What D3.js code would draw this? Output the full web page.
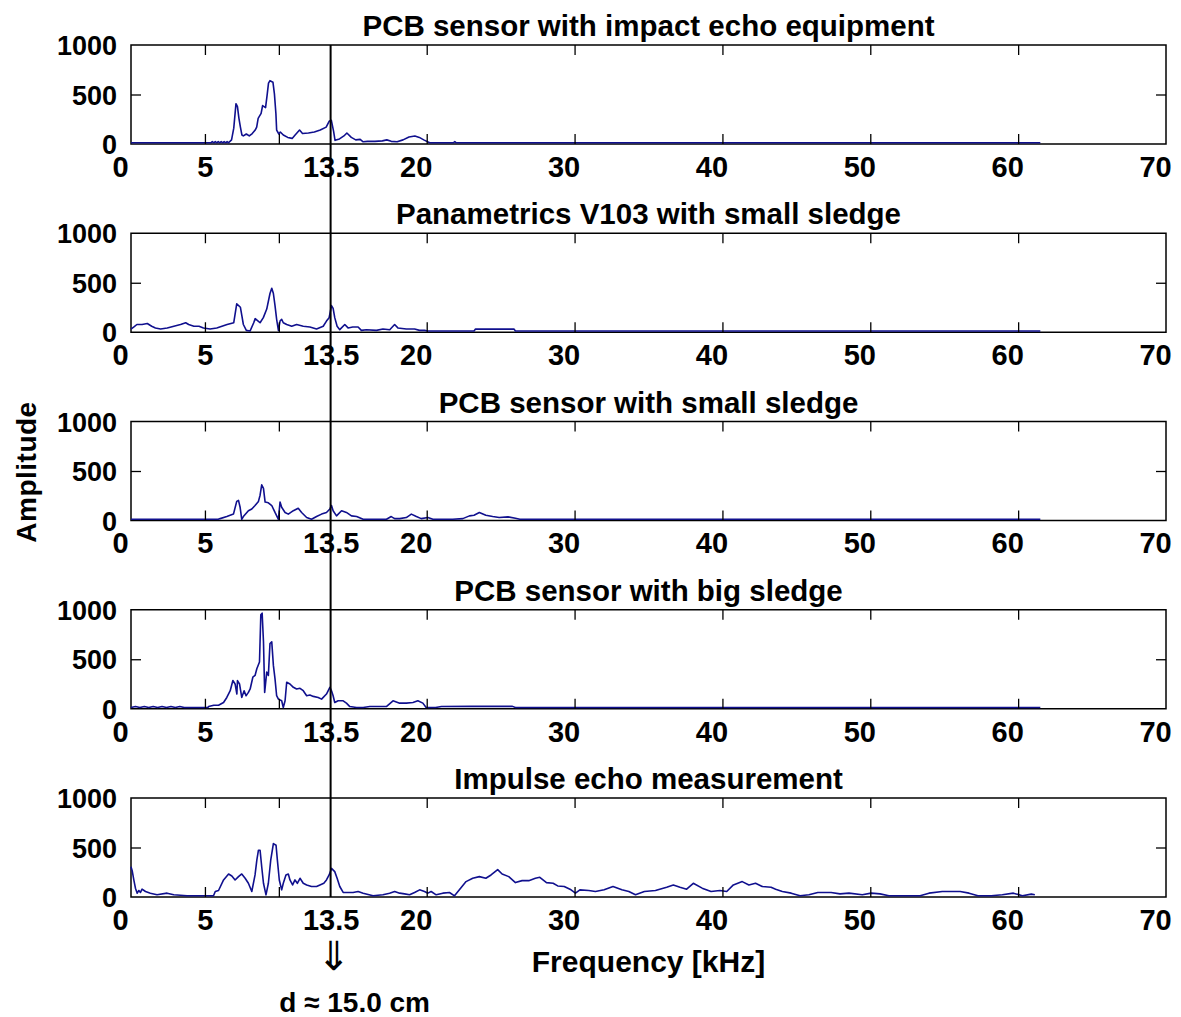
<!DOCTYPE html>
<html><head><meta charset="utf-8">
<script src="https://cdn.jsdelivr.net/npm/d3@7"></script>
<style>
body{margin:0;background:#fff}
svg text{font-family:"Liberation Sans",Arial,sans-serif;font-weight:bold;fill:#000}
</style>
</head><body>
<svg id="chart" width="1181" height="1017"></svg>
<script>
// ---------- data ----------
const titles = [
  "PCB sensor with impact echo equipment",
  "Panametrics V103 with small sledge",
  "PCB sensor with small sledge",
  "PCB sensor with big sledge",
  "Impulse echo measurement"
];
const xTickValues = [0, 5, 10, 20, 30, 40, 50, 60, 70];
const xLabelValues = [0, 5, 13.5, 20, 30, 40, 50, 60, 70];
const yTickValues = [0, 500, 1000];
const markerFreq = 13.5;
const xAxisTitle = "Frequency [kHz]";
const yAxisTitle = "Amplitude";
const markerNote = "d \u2248 15.0 cm";

// [frequency kHz, amplitude]
const pcbImpact = [[0,0],[5.4,0],[5.5,12],[5.6,0],[5.7,12],[5.8,0],[5.9,12],[6.0,0],[6.1,12],[6.2,0],[6.3,12],[6.4,0],[6.5,12],[6.6,0],[6.8,30],[6.95,150],[7.1,400],[7.2,370],[7.3,250],[7.4,160],[7.5,80],[7.6,70],[7.8,90],[8.0,70],[8.2,95],[8.4,130],[8.5,160],[8.6,250],[8.8,300],[8.9,380],[9.1,360],[9.2,480],[9.3,610],[9.4,635],[9.6,620],[9.7,500],[9.8,300],[9.85,130],[10.0,90],[10.1,110],[10.3,80],[10.6,55],[10.9,45],[11.1,80],[11.4,130],[11.6,95],[12.0,100],[12.4,110],[12.8,130],[13.2,160],[13.4,220],[13.55,230],[13.7,120],[13.8,25],[14.1,40],[14.4,70],[14.6,100],[14.9,55],[15.2,30],[15.5,35],[15.7,10],[16.0,15],[16.5,15],[17.0,20],[17.3,30],[17.6,15],[18.0,10],[18.4,30],[18.8,60],[19.2,70],[19.5,55],[19.8,30],[20.2,0],[21.8,0],[21.9,12],[22.0,0],[61.5,0]];

const panametrics = [[0,20],[0.2,42],[0.4,67],[0.75,67],[1.1,77],[1.4,49],[1.65,32],[2.0,21],[2.45,32],[2.9,49],[3.35,67],[3.7,85],[3.9,67],[4.25,49],[4.6,49],[4.9,32],[5.35,21],[5.8,32],[6.15,49],[6.5,67],[6.95,85],[7.15,278],[7.4,243],[7.5,155],[7.6,67],[7.8,7],[8.05,0],[8.3,85],[8.4,127],[8.6,102],[8.73,85],[8.95,137],[9.18,225],[9.4,384],[9.52,437],[9.63,384],[9.74,260],[9.85,120],[9.97,7],[10.08,102],[10.19,120],[10.3,85],[10.53,67],[10.87,49],[11.2,67],[11.65,49],[12.1,42],[12.55,21],[13.0,49],[13.22,102],[13.4,137],[13.56,260],[13.67,232],[13.78,137],[13.94,49],[14.12,14],[14.46,67],[14.68,32],[15.0,42],[15.36,42],[15.58,7],[15.92,14],[16.6,7],[17.04,21],[17.5,14],[17.83,67],[18.05,32],[18.62,21],[19.18,21],[19.52,7],[19.85,7],[20.08,0],[23.2,0],[23.3,20],[25.9,20],[26.0,0],[61.5,0]];

const pcbSmall = [[0,0],[5.9,0],[6.03,7],[6.48,28],[6.93,53],[7.15,183],[7.27,194],[7.38,123],[7.49,0],[7.6,28],[7.94,88],[8.17,106],[8.39,141],[8.62,183],[8.73,246],[8.84,352],[8.96,317],[9.07,176],[9.29,169],[9.52,141],[9.74,70],[9.97,0],[10.08,176],[10.19,123],[10.42,70],[10.64,53],[10.98,88],[11.31,113],[11.54,70],[11.88,18],[12.21,0],[12.55,28],[12.89,53],[13.22,70],[13.45,106],[13.56,141],[13.67,88],[13.9,35],[14.24,88],[14.57,70],[14.91,35],[15.26,28],[15.7,0],[16.6,0],[17.28,0],[17.6,28],[17.83,7],[18.17,7],[18.62,18],[18.96,53],[19.3,28],[19.63,7],[20.08,18],[20.42,0],[21.1,0],[21.76,0],[22.44,7],[22.89,35],[23.2,42],[23.56,70],[24.0,42],[24.46,28],[24.9,18],[25.5,25],[26.0,10],[26.3,0],[61.5,0]];

const pcbBig = [[0,0],[0.3,10],[0.6,0],[0.9,10],[1.2,0],[1.5,10],[1.8,0],[2.1,10],[2.4,0],[2.7,10],[3.0,0],[3.3,10],[3.6,0],[5.2,0],[5.25,10],[5.6,24],[5.92,24],[6.26,52],[6.48,103],[6.71,172],[6.89,276],[7.04,241],[7.16,138],[7.2,276],[7.34,241],[7.49,103],[7.65,172],[7.78,121],[7.94,155],[8.06,190],[8.24,310],[8.39,328],[8.51,397],[8.69,466],[8.78,948],[8.87,965],[8.96,672],[9.04,155],[9.18,362],[9.29,328],[9.4,655],[9.52,672],[9.63,431],[9.74,293],[9.85,121],[9.97,86],[10.19,69],[10.3,0],[10.42,69],[10.53,259],[10.75,241],[10.98,207],[11.2,190],[11.43,197],[11.65,172],[11.88,121],[12.1,128],[12.33,114],[12.66,103],[12.89,86],[13.22,138],[13.45,207],[13.56,172],[13.67,121],[13.78,52],[14.01,69],[14.35,69],[14.57,45],[14.8,10],[15.25,0],[15.7,0],[16.15,10],[17.27,10],[17.72,69],[18.17,45],[18.62,45],[19.07,52],[19.4,69],[19.74,45],[19.96,0],[20.6,0],[21.0,10],[23.0,12],[25.8,12],[26.0,0],[61.5,0]];

const impulseEcho = [[0,297],[0.08,257],[0.19,162],[0.3,78],[0.42,27],[0.53,54],[0.64,34],[0.75,68],[0.98,44],[1.31,27],[1.76,10],[2.44,27],[2.89,10],[3.79,0],[5.58,0],[5.7,44],[5.92,54],[6.26,162],[6.6,223],[6.82,203],[7.04,162],[7.27,196],[7.49,223],[7.72,179],[7.94,128],[8.17,44],[8.39,213],[8.51,365],[8.62,466],[8.73,466],[8.84,297],[8.96,128],[9.13,10],[9.29,128],[9.45,365],[9.63,534],[9.81,517],[9.9,365],[10.03,162],[10.19,61],[10.3,128],[10.48,213],[10.64,223],[10.75,162],[10.93,111],[11.09,162],[11.25,128],[11.43,179],[11.65,128],[11.88,111],[12.21,95],[12.55,95],[12.78,111],[13.04,128],[13.22,162],[13.4,213],[13.56,280],[13.78,247],[13.94,179],[14.12,95],[14.35,34],[15.02,34],[15.36,44],[15.7,27],[16.37,0],[17.04,10],[17.49,27],[17.83,44],[18.17,27],[18.5,20],[18.84,10],[19.18,34],[19.52,61],[19.85,44],[20.08,27],[20.3,44],[20.64,10],[21.09,27],[21.54,34],[21.88,0],[22.21,61],[22.66,145],[23.11,179],[23.56,196],[24.0,179],[24.35,213],[24.8,268],[25.1,223],[25.55,196],[26.0,135],[26.45,155],[26.9,155],[27.35,179],[27.65,189],[28.1,135],[28.55,128],[28.86,101],[29.3,95],[29.76,61],[30.06,27],[30.36,61],[30.96,54],[31.41,44],[32.0,61],[32.6,95],[33.2,61],[33.67,44],[34.12,10],[34.72,44],[35.47,54],[36.23,88],[36.68,111],[37.13,88],[37.58,68],[38.03,128],[38.63,78],[39.23,44],[39.83,54],[40.29,44],[40.74,111],[41.34,145],[41.79,111],[42.24,128],[42.69,95],[43.29,88],[43.6,68],[44.05,44],[44.65,27],[45.25,0],[45.85,10],[46.45,34],[47.35,34],[47.95,20],[48.56,27],[49.46,10],[50.06,27],[50.66,20],[51.26,0],[52.47,0],[53.37,0],[53.97,27],[54.87,44],[56.08,44],[56.68,27],[57.28,0],[58.18,0],[58.93,10],[59.68,27],[60.29,0],[60.89,17],[61.13,10]];

const seriesList = [pcbImpact, panametrics, pcbSmall, pcbBig, impulseEcho];

// ---------- layout ----------
const svg = d3.select("#chart");
const x = d3.scaleLinear().domain([0, 70]).range([131, 1166]);
const panelTop0 = 45, panelStep = 188.25, panelH = 99;
const lineColor = "#10108e";
const line = d3.line().x(d => x(d[0]));

function styleAxis(g) {
  g.attr("font-family", null).attr("font-size", null);
  g.select(".domain").remove();
  g.selectAll("line").attr("stroke", "#000").attr("stroke-width", 1.3);
}

seriesList.forEach((data, i) => {
  const top = panelTop0 + i * panelStep;
  const bottom = top + panelH;
  const y = d3.scaleLinear().domain([0, 1000]).range([bottom, top]);
  const yLine = d3.scaleLinear().domain([0, 1000]).range([bottom - 1.2, top]);
  const g = svg.append("g");

  // box
  g.append("rect")
    .attr("x", x(0)).attr("y", top)
    .attr("width", x(70) - x(0)).attr("height", panelH)
    .attr("fill", "none").attr("stroke", "#000").attr("stroke-width", 1.5);

  // data line
  g.append("path")
    .datum(data)
    .attr("fill", "none")
    .attr("stroke", lineColor)
    .attr("stroke-width", 1.6)
    .attr("stroke-linejoin", "round")
    .attr("d", line.y(d => yLine(d[1])));

  // inward ticks
  const inner = xTickValues.filter(v => v > 0 && v < 70);
  g.append("g").attr("transform", `translate(0,${bottom})`)
    .call(d3.axisBottom(x).tickValues(inner).tickSize(-10).tickFormat(""))
    .call(styleAxis);
  g.append("g").attr("transform", `translate(0,${top})`)
    .call(d3.axisTop(x).tickValues(inner).tickSize(-10).tickFormat(""))
    .call(styleAxis);
  g.append("g").attr("transform", `translate(${x(0)},0)`)
    .call(d3.axisLeft(y).tickValues([500]).tickSize(-10).tickFormat(""))
    .call(styleAxis);
  g.append("g").attr("transform", `translate(${x(70)},0)`)
    .call(d3.axisRight(y).tickValues([500]).tickSize(-10).tickFormat(""))
    .call(styleAxis);

  // y tick labels
  g.append("g").attr("transform", `translate(${x(0)},0)`)
    .call(d3.axisLeft(y).tickValues(yTickValues).tickSize(0).tickPadding(14).tickFormat(d3.format("d")))
    .call(styleAxis)
    .selectAll("text").style("font-size", "27px").attr("dy", "0.36em");

  // x tick labels
  g.append("g").attr("transform", `translate(0,${bottom})`)
    .call(d3.axisBottom(x).tickValues(xLabelValues).tickSize(0).tickPadding(12).tickFormat(d => String(d)))
    .call(styleAxis)
    .selectAll("text").style("font-size", "29px").attr("dy", "0.72em")
    .attr("dx", d => (d === 5 || d === 13.5) ? 0 : -11);

  // title
  g.append("text")
    .attr("x", (x(0) + x(70)) / 2).attr("y", top - 9)
    .attr("text-anchor", "middle").style("font-size", "29.5px")
    .text(titles[i]);
});

// vertical marker line at 13.5 kHz
const firstTop = panelTop0;
const lastBottom = panelTop0 + 4 * panelStep + panelH;
svg.append("line")
  .attr("x1", x(markerFreq)).attr("x2", x(markerFreq))
  .attr("y1", firstTop).attr("y2", lastBottom)
  .attr("stroke", "#000").attr("stroke-width", 2);

// axis titles
svg.append("text")
  .attr("x", (x(0) + x(70)) / 2).attr("y", 972)
  .attr("text-anchor", "middle").style("font-size", "30px")
  .text(xAxisTitle);

svg.append("text")
  .attr("transform", `translate(36,472) rotate(-90)`)
  .attr("text-anchor", "middle").style("font-size", "28px")
  .style("letter-spacing", "0.5px")
  .text(yAxisTitle);

// arrow + note
svg.append("text")
  .attr("x", x(markerFreq) + 3).attr("y", 970)
  .attr("text-anchor", "middle")
  .style("font-family", "'DejaVu Sans'").style("font-weight", "normal").style("font-size", "40px")
  .text("\u21D3");

svg.append("text")
  .attr("x", x(markerFreq) + 24).attr("y", 1012)
  .attr("text-anchor", "middle").style("font-size", "28px")
  .text(markerNote);
</script>
</body></html>
